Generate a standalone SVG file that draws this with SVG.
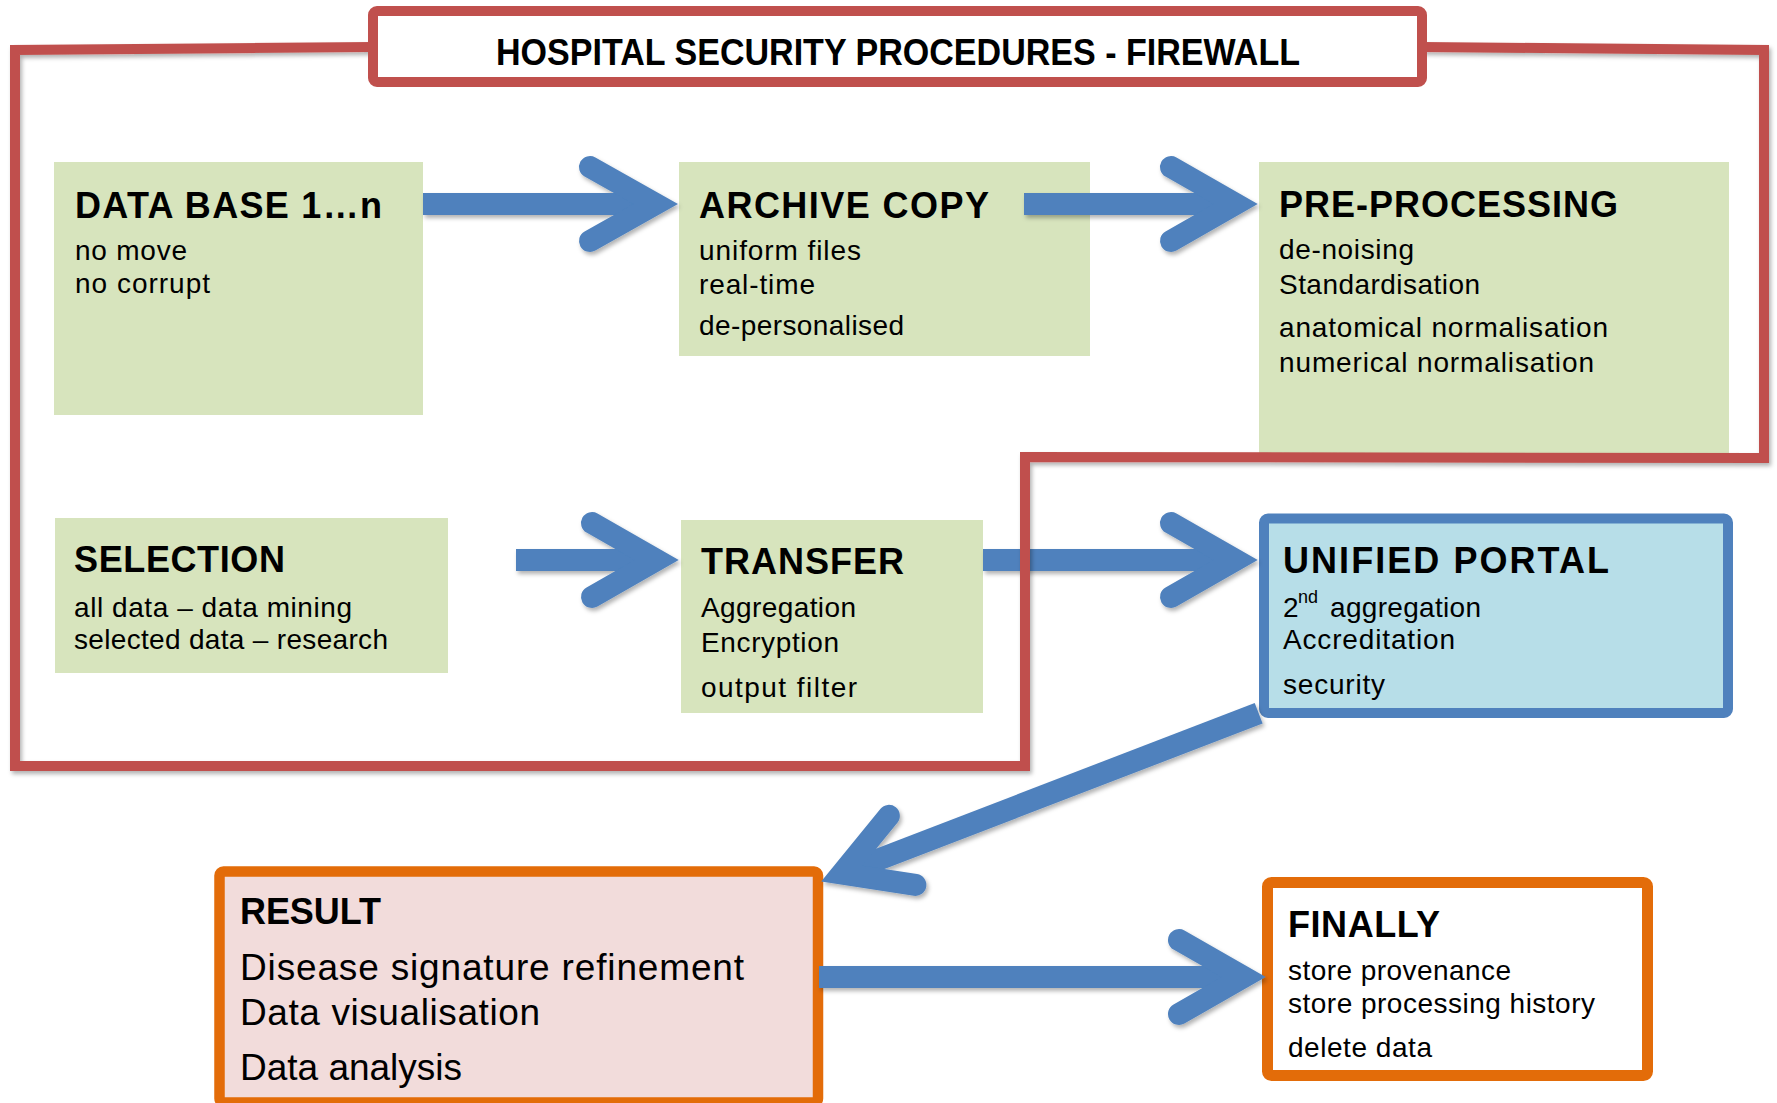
<svg xmlns="http://www.w3.org/2000/svg" width="1777" height="1103" viewBox="0 0 1777 1103">
<defs>
<style>
.bg{fill:#FFFFFF}
.green{fill:#D7E4BD}
.fw{fill:none;stroke:#C0504D;stroke-width:10;stroke-linejoin:miter;stroke-linecap:square}
.hdr{fill:#FFFFFF;stroke:#C0504D;stroke-width:10}
.blue{fill:#B7DEE8;stroke:#4F81BD;stroke-width:10}
.res{fill:#F2DCDB;stroke:#E36C09;stroke-width:10.5}
.fin{fill:#FFFFFF;stroke:#E36C09;stroke-width:11}
.shaft{fill:none;stroke:#4F81BD;stroke-width:22;stroke-linecap:butt}
.head{fill:none;stroke:#4F81BD;stroke-width:22;stroke-linecap:round;stroke-linejoin:miter;stroke-miterlimit:6}
.t{font-family:'Liberation Sans',Arial,sans-serif;font-weight:bold;font-size:36px;fill:#000000}
.h{font-family:'Liberation Sans',Arial,sans-serif;font-weight:bold;font-size:37px;fill:#000000}
.b{font-family:'Liberation Sans',Arial,sans-serif;font-size:28px;fill:#000000}
.rb{font-family:'Liberation Sans',Arial,sans-serif;font-size:37px;fill:#000000}
.sup{font-family:'Liberation Sans',Arial,sans-serif;font-size:18px;fill:#000000}
</style>
<filter id="sh" filterUnits="userSpaceOnUse" x="0" y="0" width="1777" height="1103">
<feDropShadow dx="2" dy="3" stdDeviation="2" flood-color="#000000" flood-opacity="0.3"/>
</filter>
</defs>
<rect class="bg" x="0" y="0" width="1777" height="1103"/>

<g id="database">
<rect class="green" x="54" y="162" width="369" height="253"/>
<text class="t" x="75" y="218" textLength="307" lengthAdjust="spacing">DATA BASE 1…n</text>
<text class="b" x="75" y="260" textLength="112" lengthAdjust="spacing">no move</text>
<text class="b" x="75" y="293" textLength="135" lengthAdjust="spacing">no corrupt</text>
</g>

<g id="archive-copy">
<rect class="green" x="679" y="162" width="411" height="194"/>
<text class="t" x="699" y="218" textLength="290" lengthAdjust="spacing">ARCHIVE COPY</text>
<text class="b" x="699" y="260" textLength="162" lengthAdjust="spacing">uniform files</text>
<text class="b" x="699" y="294" textLength="116" lengthAdjust="spacing">real-time</text>
<text class="b" x="699" y="335" textLength="205" lengthAdjust="spacing">de-personalised</text>
</g>

<g id="pre-processing">
<rect class="green" x="1259" y="162" width="470" height="293"/>
<text class="t" x="1279" y="217" textLength="339" lengthAdjust="spacing">PRE-PROCESSING</text>
<text class="b" x="1279" y="259" textLength="135" lengthAdjust="spacing">de-noising</text>
<text class="b" x="1279" y="294" textLength="201" lengthAdjust="spacing">Standardisation</text>
<text class="b" x="1279" y="337" textLength="329" lengthAdjust="spacing">anatomical normalisation</text>
<text class="b" x="1279" y="372" textLength="315" lengthAdjust="spacing">numerical normalisation</text>
</g>

<g id="selection">
<rect class="green" x="55" y="518" width="393" height="155"/>
<text class="t" x="74" y="572" textLength="211" lengthAdjust="spacing">SELECTION</text>
<text class="b" x="74" y="617" textLength="278" lengthAdjust="spacing">all data – data mining</text>
<text class="b" x="74" y="649" textLength="314" lengthAdjust="spacing">selected data – research</text>
</g>

<g id="transfer">
<rect class="green" x="681" y="520" width="302" height="193"/>
<text class="t" x="701" y="574" textLength="203" lengthAdjust="spacing">TRANSFER</text>
<text class="b" x="701" y="617" textLength="155" lengthAdjust="spacing">Aggregation</text>
<text class="b" x="701" y="652" textLength="138" lengthAdjust="spacing">Encryption</text>
<text class="b" x="701" y="697" textLength="156" lengthAdjust="spacing">output filter</text>
</g>

<g id="unified-portal">
<rect class="blue" x="1264" y="518.5" width="464" height="194.5" rx="4"/>
<text class="t" x="1283" y="573" textLength="326" lengthAdjust="spacing">UNIFIED PORTAL</text>
<text class="b" x="1283" y="617">2</text>
<text class="sup" x="1298" y="603">nd</text>
<text class="b" x="1330" y="617" textLength="151" lengthAdjust="spacing">aggregation</text>
<text class="b" x="1283" y="649" textLength="172" lengthAdjust="spacing">Accreditation</text>
<text class="b" x="1283" y="694" textLength="102" lengthAdjust="spacing">security</text>
</g>

<g id="result">
<rect class="res" x="219.5" y="871.5" width="598.5" height="231" rx="4"/>
<text class="t" x="240" y="924" textLength="141" lengthAdjust="spacing">RESULT</text>
<text class="rb" x="240" y="980" textLength="504" lengthAdjust="spacing">Disease signature refinement</text>
<text class="rb" x="240" y="1025" textLength="300" lengthAdjust="spacing">Data visualisation</text>
<text class="rb" x="240" y="1080" textLength="222" lengthAdjust="spacing">Data analysis</text>
</g>

<g id="finally">
<rect class="fin" x="1267.5" y="882.5" width="380" height="193" rx="4"/>
<text class="t" x="1288" y="937" textLength="152" lengthAdjust="spacing">FINALLY</text>
<text class="b" x="1288" y="980" textLength="223" lengthAdjust="spacing">store provenance</text>
<text class="b" x="1288" y="1013" textLength="307" lengthAdjust="spacing">store processing history</text>
<text class="b" x="1288" y="1057" textLength="144" lengthAdjust="spacing">delete data</text>
</g>

<g id="connectors">
<g id="arrow-database-archive" filter="url(#sh)">
<line class="shaft" x1="423" y1="204" x2="650" y2="204"/>
<polyline class="head" points="590,167 655.6,204 590,241"/>
</g>
<g id="arrow-archive-preprocessing" filter="url(#sh)">
<line class="shaft" x1="1024" y1="204" x2="1230" y2="204"/>
<polyline class="head" points="1171,167 1235.6,204 1171,241"/>
</g>
<g id="arrow-selection-transfer" filter="url(#sh)">
<line class="shaft" x1="516" y1="560" x2="651" y2="560"/>
<polyline class="head" points="592,523 656.6,560 592,597"/>
</g>
<g id="arrow-transfer-unified" filter="url(#sh)">
<line class="shaft" x1="983" y1="560" x2="1230" y2="560"/>
<polyline class="head" points="1171,523 1235.6,560 1171,597"/>
</g>
<g id="arrow-unified-result" filter="url(#sh)">
<g transform="translate(820,882) rotate(158.96)">
<line class="shaft" x1="-470" y1="0" x2="-30" y2="0"/>
<polyline class="head" points="-88,-37 -23.4,0 -88,37"/>
</g>
</g>
<g id="arrow-result-finally" filter="url(#sh)">
<line class="shaft" x1="819" y1="977" x2="1238" y2="977"/>
<polyline class="head" points="1179,940 1243.6,977 1179,1014"/>
</g>
</g>

<g id="firewall-boundary" filter="url(#sh)">
<path class="fw" d="M 368 47 L 15 50 L 15 766 L 1025 766 L 1025 457 L 1764 458 L 1764 50 L 1427 47"/>
</g>

<g id="firewall-title">
<rect class="hdr" x="373" y="11" width="1049" height="71" rx="4"/>
<text class="h" x="496" y="65" textLength="804" lengthAdjust="spacingAndGlyphs">HOSPITAL SECURITY PROCEDURES - FIREWALL</text>
</g>
</svg>
